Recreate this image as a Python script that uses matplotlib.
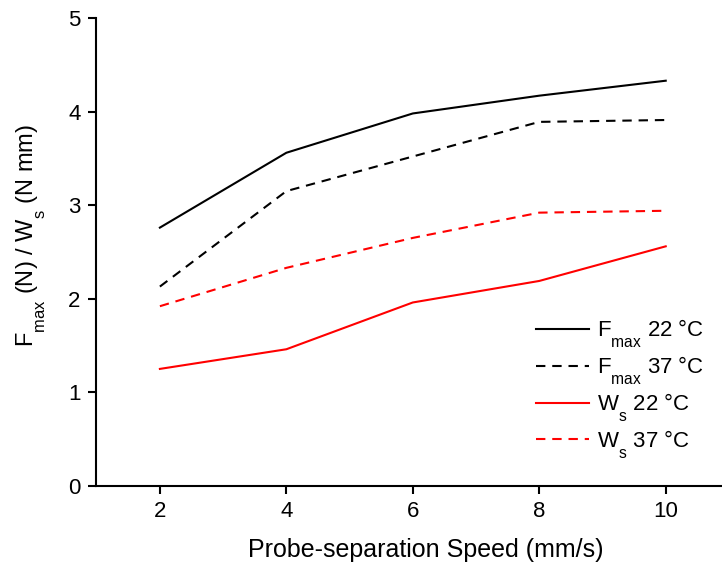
import matplotlib
matplotlib.use("Agg")
import matplotlib.pyplot as plt

plt.rcParams['font.family'] = ['Liberation Sans', 'DejaVu Sans']
plt.rcParams['mathtext.fontset'] = 'custom'
plt.rcParams['mathtext.rm'] = 'Liberation Sans'
plt.rcParams['mathtext.it'] = 'Liberation Sans:italic'
plt.rcParams['mathtext.bf'] = 'Liberation Sans:bold'

# deeper subscripts, as in the reference typesetting
try:
    import matplotlib._mathtext as _mt
    _mt.FontConstantsBase.sub1 = 0.95
except Exception:
    pass

speeds = [2, 4, 6, 8, 10]
fmax_22 = [2.76, 3.56, 3.98, 4.17, 4.33]
fmax_37 = [2.13, 3.15, 3.52, 3.89, 3.91]
ws_22 = [1.25, 1.46, 1.96, 2.19, 2.56]
ws_37 = [1.92, 2.33, 2.65, 2.92, 2.94]
x_ticks = [2, 4, 6, 8, 10]
y_ticks = [0, 1, 2, 3, 4, 5]

fig = plt.figure(figsize=(7.22, 5.63), dpi=100)
ax = fig.add_axes([0.133, 0.137, 0.867, 0.831])

dash = (0, (4.5, 3.3))
ax.plot(speeds, fmax_22, color='black', lw=1.5, ls='-', label=r'F$_{\mathrm{max}}$ 22 °C')
ax.plot(speeds, fmax_37, color='black', lw=1.5, ls=dash, label=r'F$_{\mathrm{max}}$ 37 °C')
ax.plot(speeds, ws_22, color='#ff0000', lw=1.5, ls='-', label=r'W$_{\mathrm{s}}$ 22 °C')
ax.plot(speeds, ws_37, color='#ff0000', lw=1.5, ls=dash, label=r'W$_{\mathrm{s}}$ 37 °C')

ax.set_xlim(0.99, 10.89)
ax.set_ylim(0, 5)
ax.set_xticks(x_ticks)
ax.set_yticks(y_ticks)
ax.spines['top'].set_visible(False)
ax.spines['right'].set_visible(False)
for s in ['left', 'bottom']:
    ax.spines[s].set_linewidth(1.5)
ax.tick_params(direction='out', length=6, width=1.5, labelsize=16, pad=5)
ax.set_xlabel('Probe-separation Speed (mm/s)', fontsize=18, labelpad=10)
ax.xaxis.set_label_coords(0.527, -0.112)
ax.set_ylabel(r'F$_{\mathrm{max}}$ (N) / W$_{\mathrm{s}}$ (N mm)', fontsize=17)
ax.yaxis.set_label_coords(-0.076, 0.535)

ax.legend(loc='lower right', frameon=False, fontsize=16, handlelength=2.4,
          handletextpad=0.35, labelspacing=0.2, borderaxespad=0,
          bbox_to_anchor=(0.985, 0.035))

fig.savefig('out.png', dpi=100)
